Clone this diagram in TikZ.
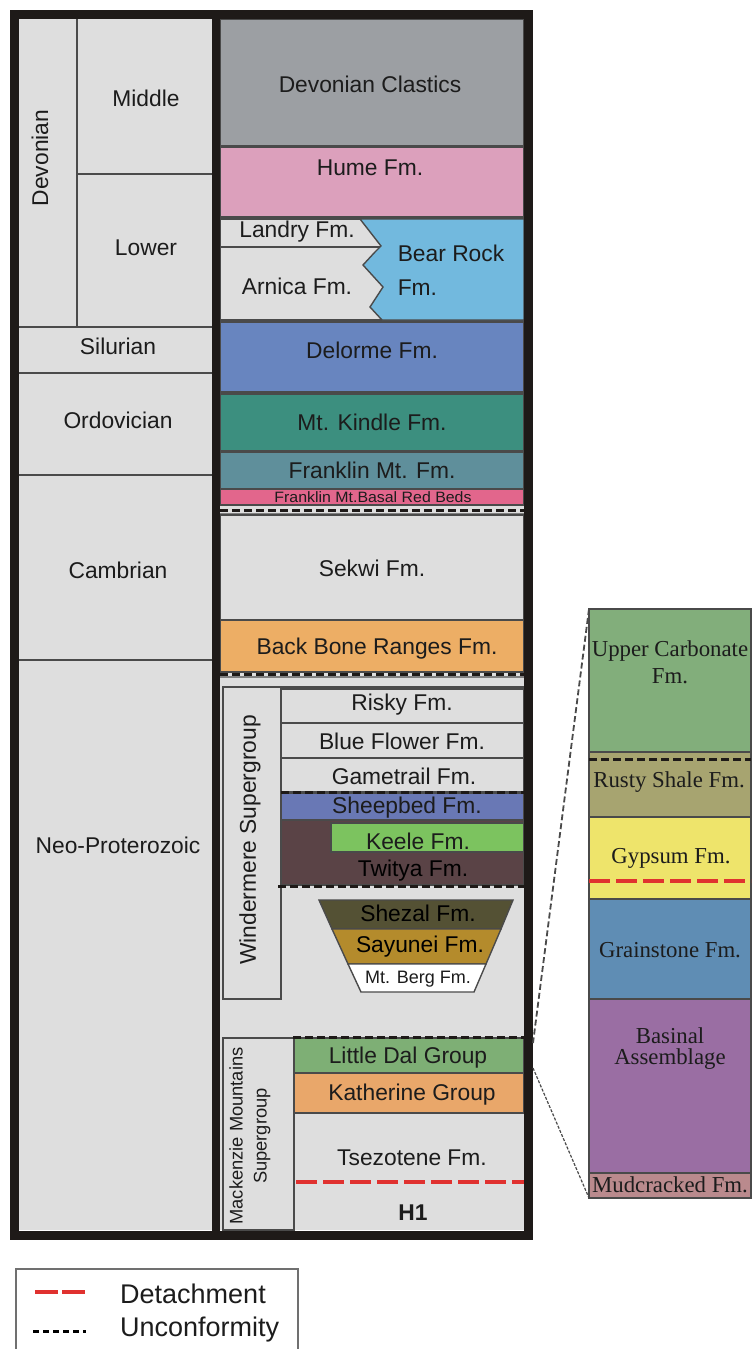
\documentclass[tikz,border=0pt]{standalone}
\usepackage{fontspec}
\setmainfont{Liberation Sans}
\newfontfamily\insetfont{Liberation Serif}
\definecolor{bggray}{HTML}{DEDEDE}
\definecolor{framec}{HTML}{1E1A18}
\definecolor{linec}{HTML}{4A4A4A}
\definecolor{txt}{HTML}{1C1C1C}
\definecolor{cDC}{HTML}{9C9FA3}
\definecolor{cHume}{HTML}{DCA0BC}
\definecolor{cBear}{HTML}{72B9DE}
\definecolor{cDel}{HTML}{6885BF}
\definecolor{cKin}{HTML}{3C8F7F}
\definecolor{cFra}{HTML}{5F8F9B}
\definecolor{cRed}{HTML}{E2668C}
\definecolor{cBack}{HTML}{EDAE65}
\definecolor{cSheep}{HTML}{6978B5}
\definecolor{cKeele}{HTML}{7CC35F}
\definecolor{cTwit}{HTML}{5A4346}
\definecolor{cShez}{HTML}{545134}
\definecolor{cSay}{HTML}{B48B2C}
\definecolor{cLD}{HTML}{7EAF75}
\definecolor{cKath}{HTML}{E9A76A}
\definecolor{cUC}{HTML}{82AE7B}
\definecolor{cRS}{HTML}{A7A470}
\definecolor{cGy}{HTML}{EEE46B}
\definecolor{cGr}{HTML}{5F8DB4}
\definecolor{cBa}{HTML}{9A6EA3}
\definecolor{cMu}{HTML}{BA8A8D}
\definecolor{detred}{HTML}{E0312F}
\definecolor{legc}{HTML}{707070}
\begin{document}
\begin{tikzpicture}[x=1pt,y=-1pt,
  layer/.style={draw=linec, line width=1.4pt},
  thinl/.style={draw=linec, line width=1.3pt},
  lbl/.style={font=\fontsize{22.8}{24}\selectfont, text=txt, inner sep=0pt},
  smalllbl/.style={font=\fontsize{18}{22}\selectfont, text=txt, inner sep=0pt},
  ilbl/.style={font=\insetfont\fontsize{22.8}{20}\selectfont, text=txt, inner sep=0pt, align=center},
  unconf/.style={draw=framec, line width=3pt, dash pattern=on 8pt off 4pt},
  detach/.style={draw=detred, line width=4pt, dash pattern=on 21pt off 6pt},
  link/.style={draw=linec, line width=1.8pt, dash pattern=on 6pt off 3pt},
  linkthin/.style={draw=linec, line width=1.2pt, dash pattern=on 3pt off 1.5pt}]
\useasboundingbox (0,0) rectangle (754,1349);
\fill[white] (0,0) rectangle (754,1349);
% backgrounds
\fill[bggray] (19,19) rectangle (212,1230);
\fill[bggray] (220,19) rectangle (524,1230);
% left column
\draw[thinl] (77,19) -- (77,326);
\draw[thinl] (77,174) -- (212,174);
\draw[thinl] (19,327) -- (212,327);
\draw[thinl] (19,373) -- (212,373);
\draw[thinl] (19,475) -- (212,475);
\draw[thinl] (19,660) -- (212,660);
\node[lbl, rotate=90] (devonian) at (40,158) {Devonian};
\node[lbl] (middle) at (146,98) {Middle};
\node[lbl] (lower) at (146,248) {Lower};
\node[lbl] (silurian) at (118,346) {Silurian};
\node[lbl] (ordovician) at (118,420) {Ordovician};
\node[lbl] (cambrian) at (118,570) {Cambrian};
\node[lbl] (neo) at (118,845) {Neo-Proterozoic};
% right column layers
\filldraw[layer, fill=cDC] (220,19) rectangle (524,146);
\filldraw[layer, fill=cHume] (220,147) rectangle (524,217);
\filldraw[layer, fill=bggray] (220,219) rectangle (524,320);
\filldraw[layer, fill=cBear] (360,219) -- (381,246) -- (375,252) -- (363,265) -- (383,287) -- (370,307) -- (382,320) -- (524,320) -- (524,219) -- cycle;
\draw[thinl] (220,247) -- (380,247);
\filldraw[layer, fill=cDel] (220,322) rectangle (524,392);
\filldraw[layer, fill=cKin] (220,394) rectangle (524,451);
\filldraw[layer, fill=cFra] (220,452) rectangle (524,489);
\filldraw[layer, fill=cRed] (220,489) rectangle (524,505);
\draw[draw=gray, line width=1.5pt] (220,514) -- (524,514);
\draw[unconf] (220,510) -- (524,510);
\filldraw[layer, fill=bggray] (220,515) rectangle (524,620);
\filldraw[layer, fill=cBack] (220,620) rectangle (524,672);
\draw[draw=gray, line width=1.5pt] (220,677) -- (524,677);
\draw[unconf] (220,674) -- (524,674);
\node[lbl] (dc) at (370,84) {Devonian Clastics};
\node[lbl] (hume) at (370,168) {Hume Fm.};
\node[lbl] (landry) at (297,232) {Landry Fm.};
\node[lbl] (arnica) at (297,286) {Arnica Fm.};
\node[lbl, align=left, font=\fontsize{22.8}{34}\selectfont] (bear) at (451,270) {Bear Rock\\Fm.};
\node[lbl] (delorme) at (372,350) {Delorme Fm.};
\node[lbl] (kindle) at (372,422) {Mt. Kindle Fm.};
\node[lbl] (franklin) at (372,470) {Franklin Mt. Fm.};
\node[font=\fontsize{15}{16}\selectfont, text=txt, inner sep=0pt, xscale=1.06] (redbeds) at (373,497) {Franklin Mt.Basal Red Beds};
\node[lbl] (sekwi) at (372,568) {Sekwi Fm.};
\node[lbl] (backbone) at (377,649) {Back Bone Ranges Fm.};
% Windermere
\draw[thinl] (223,687) -- (524,687);
\draw[thinl] (223,687) rectangle (281,999);
\node[lbl, rotate=90] (winder) at (250,840) {Windermere Supergroup};
\filldraw[layer, fill=bggray] (281,689) rectangle (524,723);
\filldraw[layer, fill=bggray] (281,723) rectangle (524,758);
\filldraw[layer, fill=bggray] (281,758) rectangle (524,792);
\filldraw[layer, fill=cSheep] (281,793) rectangle (524,820);
\filldraw[layer, fill=cTwit] (281,820) rectangle (524,885);
\filldraw[layer, fill=cKeele] (331,823) rectangle (524,852);
\draw[unconf] (281,792) -- (524,792);
\draw[unconf] (278,886) -- (524,886);
\node[lbl] (risky) at (402,705) {Risky Fm.};
\node[lbl] (blue) at (402,741) {Blue Flower Fm.};
\node[lbl] (game) at (404,776) {Gametrail Fm.};
\node[lbl] (sheep) at (407,808) {Sheepbed Fm.};
\node[lbl] (keele) at (418,841) {Keele Fm.};
\node[lbl, text=black] (twitya) at (413,871) {Twitya Fm.};
\filldraw[layer, fill=cShez] (319,900) -- (513,900) -- (501,929) -- (332,929) -- cycle;
\filldraw[layer, fill=cSay] (332,929) -- (501,929) -- (486,964) -- (348,964) -- cycle;
\filldraw[layer, fill=white] (348,964) -- (486,964) -- (474,992) -- (361,992) -- cycle;
\node[lbl, text=black] (shezal) at (418,913) {Shezal Fm.};
\node[lbl, text=black] (sayunei) at (420,947) {Sayunei Fm.};
\node[smalllbl] (berg) at (418,979) {Mt. Berg Fm.};
% Mackenzie
\draw[thinl] (223,1038) rectangle (294,1230);
\node[smalllbl, rotate=90, align=center, font=\fontsize{18.3}{24}\selectfont] (mack) at (250,1136) {Mackenzie Mountains\\Supergroup};
\filldraw[layer, fill=cLD] (294,1038) rectangle (524,1073);
\filldraw[layer, fill=cKath] (294,1073) rectangle (524,1113);
\draw[unconf] (293,1037) -- (524,1037);
\draw[detach] (296,1182) -- (524,1182);
\node[lbl] (littledal) at (408,1058) {Little Dal Group};
\node[lbl] (kath) at (412,1095) {Katherine Group};
\node[lbl] (tsez) at (412,1158) {Tsezotene Fm.};
\node[lbl] (h1) at (413,1213) {\textbf{H1}};
% frame
\draw[framec, line width=9pt] (14.5,14.5) rectangle (528.5,1235.5);
\draw[framec, line width=8pt] (216,19) -- (216,1231);
% inset
\filldraw[layer, fill=cUC] (589,609) rectangle (751,752);
\filldraw[layer, fill=cRS] (589,752) rectangle (751,817);
\filldraw[layer, fill=cGy] (589,817) rectangle (751,899);
\filldraw[layer, fill=cGr] (589,899) rectangle (751,999);
\filldraw[layer, fill=cBa] (589,999) rectangle (751,1173);
\filldraw[layer, fill=cMu] (589,1173) rectangle (751,1198);
\draw[unconf] (589,759) -- (751,759);
\draw[detach] (589,881) -- (751,881);
\node[ilbl, font=\insetfont\fontsize{22.8}{27}\selectfont] (uc) at (670,662) {Upper Carbonate\\Fm.};
\node[ilbl] (rs) at (669,782) {Rusty Shale Fm.};
\node[ilbl] (gy) at (671,858) {Gypsum Fm.};
\node[ilbl] (gr) at (670,950) {Grainstone Fm.};
\node[ilbl, font=\insetfont\fontsize{22.8}{21}\selectfont] (ba) at (670,1049) {Basinal\\Assemblage};
\node[ilbl] (mu) at (670,1185) {Mudcracked Fm.};
% connectors
\coordinate (insTL) at (589,609);
\coordinate (insBL) at (589,1198);
\coordinate (ldTop) at (533,1043);
\coordinate (ldBot) at (533,1068);
\draw[link] (insTL) -- (ldTop);
\draw[linkthin] (ldBot) -- (insBL);
% legend
\draw[legc, line width=2.5pt] (16,1360) -- (16,1269) -- (298,1269) -- (298,1360);
\coordinate (rA) at (35,1292);
\coordinate (rB) at (85,1292);
\coordinate (kA) at (33,1331);
\coordinate (kB) at (86,1331);
\draw[detred, line width=4pt, dash pattern=on 23pt off 4pt] (rA) -- (rB);
\draw[black, line width=3pt, dash pattern=on 6pt off 4pt] (kA) -- (kB);
\node[font=\fontsize{27}{29}\selectfont, text=txt, inner sep=0pt, anchor=west] (det) at (120,1294) {Detachment};
\node[font=\fontsize{27}{29}\selectfont, text=txt, inner sep=0pt, anchor=west] (unc) at (120,1330) {Unconformity};
\end{tikzpicture}
\end{document}
